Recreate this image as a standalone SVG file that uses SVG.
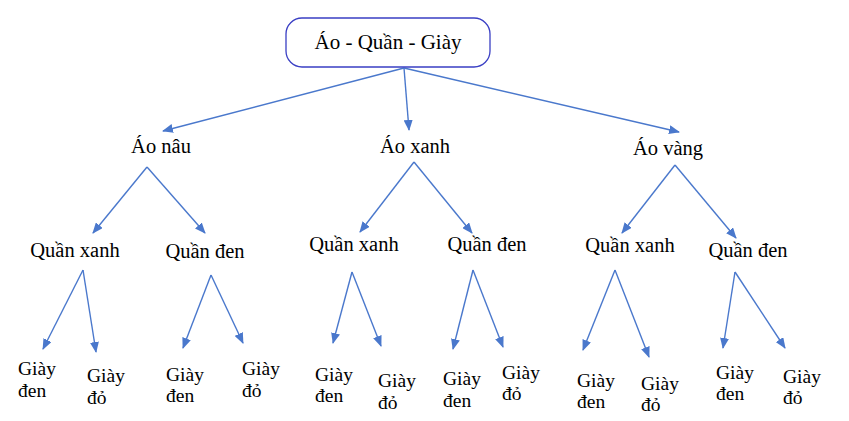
<svg xmlns="http://www.w3.org/2000/svg" width="849" height="421" viewBox="0 0 849 421">
<style>
text{font-family:'Liberation Serif','Times New Roman','DejaVu Serif',serif;fill:#000}
.t1{font-size:21px}
.t2{font-size:20.5px}
.t3{font-size:19.5px}
.c line{stroke:#4a78cc;stroke-width:1.4;marker-end:url(#ah)}
</style>
<defs>
<marker id="ah" markerUnits="userSpaceOnUse" markerWidth="11" markerHeight="9" refX="10" refY="4.5" orient="auto">
<path d="M0,0 L11,4.5 L0,9 z" fill="#4a78cc"/>
</marker>
</defs>
<rect width="849" height="421" fill="#fff"/>
<g id="connectors" class="c">
<line x1="404" y1="68" x2="163" y2="131"/>
<line x1="404" y1="68" x2="409" y2="130"/>
<line x1="404" y1="68" x2="679" y2="132"/>
<line x1="147" y1="167" x2="93" y2="233"/>
<line x1="147" y1="167" x2="205" y2="233"/>
<line x1="414" y1="162" x2="360" y2="232"/>
<line x1="414" y1="162" x2="472" y2="233"/>
<line x1="675" y1="165" x2="622" y2="233"/>
<line x1="675" y1="165" x2="736" y2="238"/>
<line x1="83" y1="270" x2="43" y2="349"/>
<line x1="83" y1="270" x2="96" y2="352"/>
<line x1="211" y1="275" x2="183" y2="348"/>
<line x1="211" y1="275" x2="243" y2="343"/>
<line x1="352" y1="272" x2="333" y2="343"/>
<line x1="352" y1="272" x2="381" y2="346"/>
<line x1="473" y1="270" x2="453" y2="349"/>
<line x1="473" y1="270" x2="503" y2="347"/>
<line x1="615" y1="270" x2="583" y2="350"/>
<line x1="615" y1="270" x2="649" y2="357"/>
<line x1="735" y1="272" x2="723" y2="348"/>
<line x1="735" y1="272" x2="785" y2="348"/>
</g>
<g id="root">
<rect x="286" y="18" width="204" height="49" rx="16" fill="#fff" stroke="#3a3fc4" stroke-width="1.3"/>
<text class="t1" x="388" y="49" text-anchor="middle">Áo - Quần - Giày</text>
</g>
<g id="ao-nau"><text class="t2" x="161" y="153" text-anchor="middle">Áo nâu</text></g>
<g id="ao-xanh"><text class="t2" x="415" y="153" text-anchor="middle">Áo xanh</text></g>
<g id="ao-vang"><text class="t2" x="668" y="155" text-anchor="middle">Áo vàng</text></g>
<g id="nau-qx"><text class="t2" x="75" y="257" text-anchor="middle">Quần xanh</text></g>
<g id="nau-qd"><text class="t2" x="205" y="258" text-anchor="middle">Quần đen</text></g>
<g id="xanh-qx"><text class="t2" x="354" y="251" text-anchor="middle">Quần xanh</text></g>
<g id="xanh-qd"><text class="t2" x="487" y="251" text-anchor="middle">Quần đen</text></g>
<g id="vang-qx"><text class="t2" x="630" y="252" text-anchor="middle">Quần xanh</text></g>
<g id="vang-qd"><text class="t2" x="748" y="257" text-anchor="middle">Quần đen</text></g>
<g id="g1"><text class="t3" x="18" y="375">Giày</text><text class="t3" x="18" y="397">đen</text></g>
<g id="g2"><text class="t3" x="87" y="382">Giày</text><text class="t3" x="87" y="404">đỏ</text></g>
<g id="g3"><text class="t3" x="166" y="381">Giày</text><text class="t3" x="166" y="402">đen</text></g>
<g id="g4"><text class="t3" x="242" y="375">Giày</text><text class="t3" x="242" y="397">đỏ</text></g>
<g id="g5"><text class="t3" x="315" y="381">Giày</text><text class="t3" x="315" y="402">đen</text></g>
<g id="g6"><text class="t3" x="378" y="387">Giày</text><text class="t3" x="378" y="409">đỏ</text></g>
<g id="g7"><text class="t3" x="443" y="385">Giày</text><text class="t3" x="443" y="407">đen</text></g>
<g id="g8"><text class="t3" x="502" y="379">Giày</text><text class="t3" x="502" y="400">đỏ</text></g>
<g id="g9"><text class="t3" x="577" y="387">Giày</text><text class="t3" x="577" y="408">đen</text></g>
<g id="g10"><text class="t3" x="641" y="390">Giày</text><text class="t3" x="641" y="411">đỏ</text></g>
<g id="g11"><text class="t3" x="716" y="379">Giày</text><text class="t3" x="716" y="400">đen</text></g>
<g id="g12"><text class="t3" x="783" y="383">Giày</text><text class="t3" x="783" y="404">đỏ</text></g>
</svg>
